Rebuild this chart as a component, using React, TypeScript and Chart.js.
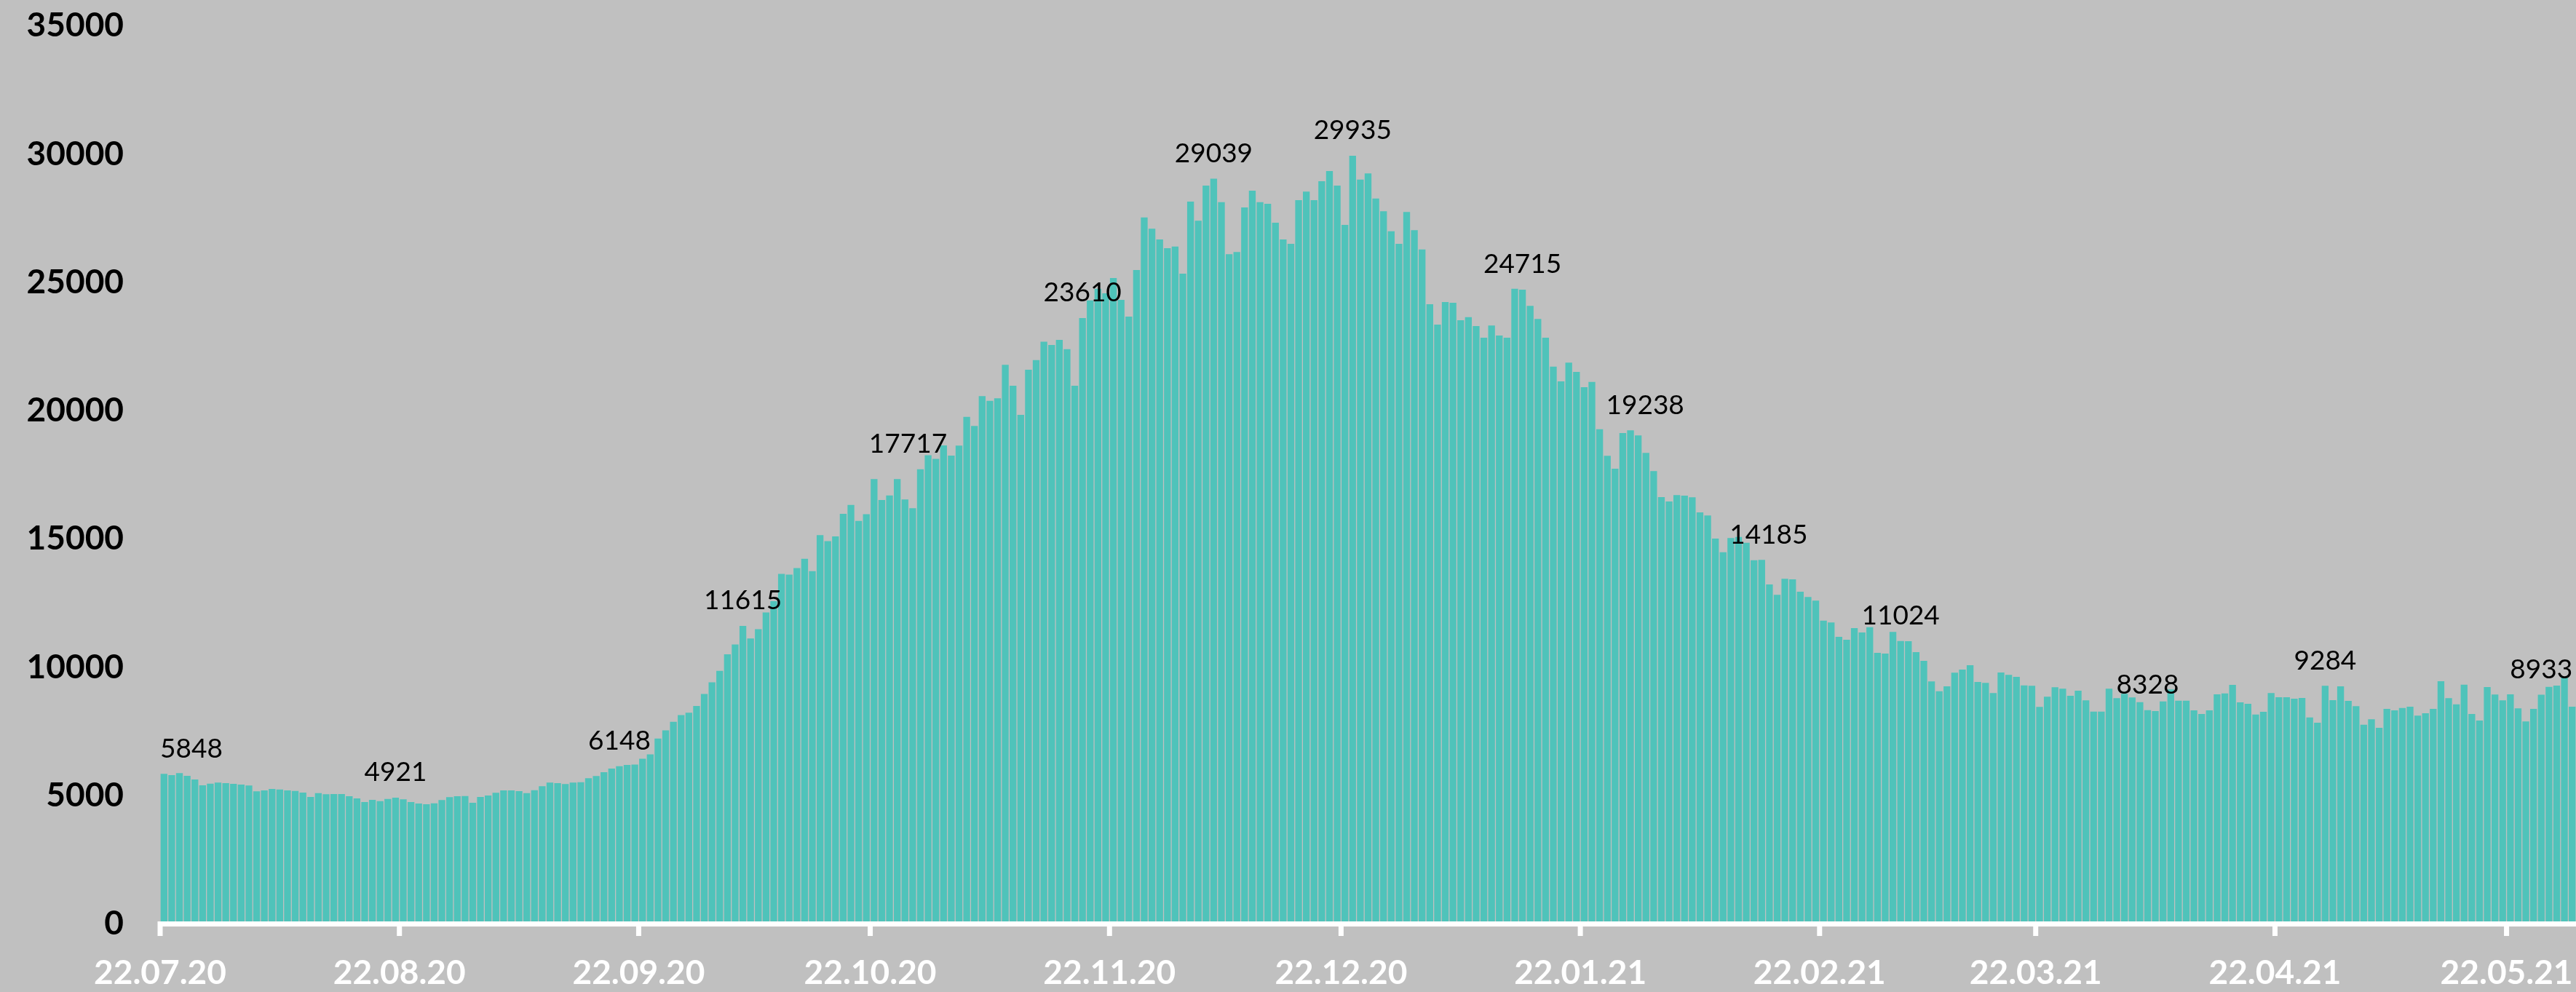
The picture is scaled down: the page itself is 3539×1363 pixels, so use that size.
import React, { useEffect, useRef } from 'react';
import { Chart, registerables } from 'chart.js';

Chart.register(...registerables);

// Daily values, one per day starting 22.07.20
const dailyCases: number[] = [
  5848, 5800, 5875, 5771, 5629, 5403, 5469, 5507, 5488, 5459,
  5431, 5393, 5166, 5204, 5261, 5242, 5204, 5185, 5119, 4949,
  5100, 5053, 5062, 5062, 4977, 4892, 4750, 4835, 4788, 4873,
  4921, 4854, 4750, 4694, 4665, 4703, 4826, 4939, 4977, 4987,
  4722, 4949, 5006, 5110, 5204, 5204, 5176, 5100, 5214, 5365,
  5507, 5488, 5450, 5507, 5526, 5677, 5762, 5913, 6055, 6148,
  6200, 6210, 6441, 6606, 7227, 7544, 7875, 8137, 8233, 8494,
  8964, 9419, 9860, 10507, 10894, 11615, 11128, 11486, 12135, 12575,
  13638, 13610, 13871, 14231, 13749, 15155, 14920, 15099, 15981, 16326,
  15706, 15970, 17333, 16520, 16699, 17333, 16539, 16199, 17717, 18266,
  18124, 18647, 18250, 18637, 19762, 19404, 20566, 20386, 20481, 21786,
  20972, 19838, 21596, 21974, 22692, 22560, 22759, 22400, 20972, 23610,
  24300, 24750, 24574, 25170, 24319, 23666, 25482, 27533, 27089, 26673,
  26332, 26399, 25340, 28147, 27401, 28771, 29039, 28129, 26096, 26181,
  27921, 28573, 28129, 28062, 27325, 26673, 26502, 28204, 28535, 28204,
  28941, 29338, 28771, 27240, 29935, 29008, 29244, 28270, 27769, 26994,
  26502, 27741, 27032, 26285, 24149, 23354, 24234, 24205, 23525, 23648,
  23298, 22844, 23317, 22929, 22844, 24753, 24715, 24082, 23572, 22844,
  21719, 21142, 21870, 21511, 20915, 21123, 19280, 18240, 17739, 19129,
  19238, 19034, 18354, 17645, 16633, 16463, 16709, 16690, 16623, 16038,
  15915, 15017, 14487, 15036, 15083, 14856, 14175, 14185, 13230, 12823,
  13448, 13428, 12946, 12738, 12597, 11821, 11746, 11188, 11075, 11528,
  11358, 11566, 10564, 10536, 11377, 11024, 11018, 10592, 10252, 9448,
  9070, 9259, 9789, 9912, 10082, 9430, 9391, 8995, 9798, 9704,
  9628, 9297, 9278, 8456, 8853, 9222, 9165, 8891, 9089, 8711,
  8277, 8277, 9165, 8796, 8966, 8825, 8645, 8328, 8295, 8673,
  9137, 8702, 8702, 8324, 8182, 8324, 8948, 8985, 9316, 8636,
  8579, 8163, 8267, 8995, 8834, 8834, 8777, 8806, 8050, 7841,
  9284, 8721, 9259, 8692, 8484, 7766, 7974, 7643, 8380, 8324,
  8418, 8465, 8116, 8210, 8380, 9458, 8796, 8560, 9326, 8182,
  7927, 9231, 8938, 8711, 8948, 8399, 7889, 8380, 8933, 9240,
  9288, 9628, 8465,
];

// Categories: one date per bar (dd.mm.yy)
const categories: string[] = dailyCases.map((_, i) => {
  const d = new Date(Date.UTC(2020, 6, 22 + i));
  const dd = String(d.getUTCDate()).padStart(2, '0');
  const mm = String(d.getUTCMonth() + 1).padStart(2, '0');
  const yy = String(d.getUTCFullYear()).slice(2);
  return `${dd}.${mm}.${yy}`;
});

// X-axis tick labels
const tickLabels: string[] = [
  '22.07.20', '22.08.20', '22.09.20', '22.10.20', '22.11.20', '22.12.20',
  '22.01.21', '22.02.21', '22.03.21', '22.04.21', '22.05.21',
];

// Y-axis ticks
const yTickValues: number[] = [0, 5000, 10000, 15000, 20000, 25000, 30000, 35000];

// Bars that carry a value label, and where (in day units) each label is centred
const labeledBars: number[] = [0, 30, 59, 75, 98, 119, 136, 154, 176, 190, 207, 225, 257, 280, 308];
const labelAnchors: number[] = [0.5, 30.5, 59.5, 75.5, 96.9, 119.5, 136.5, 154.5, 176.5, 192.4, 208.4, 225.5, 257.5, 280.5, 308.5];

const tickIndex: number[] = tickLabels.map((l) => categories.indexOf(l));

const BAR_COLOR = '#4FC3BA';
const BG_COLOR = '#C0C0C0';

const axisPlugin = {
  id: 'whiteAxis',
  afterDatasetsDraw(chart: any) {
    const { ctx, chartArea } = chart;
    const xs = chart.scales.x;
    ctx.save();
    ctx.fillStyle = '#FFFFFF';
    const lw = 7;
    ctx.fillRect(chartArea.left - lw / 2, chartArea.bottom - lw / 2, chartArea.right - chartArea.left + lw, lw);
    tickIndex.forEach((t) => {
      const px = xs.getPixelForValue(t);
      ctx.fillRect(px - lw / 2, chartArea.bottom + lw / 2, lw, 13);
    });
    ctx.restore();
  },
};

const valueLabelPlugin = {
  id: 'valueLabels',
  afterDatasetsDraw(chart: any) {
    const { ctx, chartArea } = chart;
    const xs = chart.scales.x;
    const ys = chart.scales.y;
    ctx.save();
    ctx.font = '37px Lato';
    ctx.fillStyle = '#000000';
    ctx.textAlign = 'center';
    ctx.textBaseline = 'alphabetic';
    labeledBars.forEach((idx, k) => {
      const text = String(dailyCases[idx]);
      const w = ctx.measureText(text).width;
      let cx = xs.getPixelForValue(labelAnchors[k]);
      cx = Math.max(chartArea.left + w / 2, Math.min(chartArea.right - w / 2, cx));
      const top = ys.getPixelForValue(dailyCases[idx]);
      ctx.fillText(text, cx, top - 22.6);
    });
    ctx.restore();
  },
};

export default function App() {
  const canvasRef = useRef<HTMLCanvasElement | null>(null);

  useEffect(() => {
    const canvas = canvasRef.current;
    if (!canvas) return;
    const chart = new Chart(canvas, {
      type: 'bar',
      data: {
        datasets: [
          {
            data: dailyCases.map((v, i) => ({ x: i + 0.5, y: v })) as any,
            backgroundColor: BAR_COLOR,
            borderWidth: 0,
            barPercentage: 0.88,
            categoryPercentage: 1,
          },
        ],
      },
      options: {
        responsive: false,
        maintainAspectRatio: false,
        animation: false,
        layout: { padding: { top: 35.4, left: 0, right: 0, bottom: 0 } },
        plugins: {
          legend: { display: false },
          tooltip: { enabled: false },
        },
        scales: {
          x: {
            type: 'linear',
            min: 0,
            max: dailyCases.length,
            offset: false,
            grid: { display: false, drawTicks: false },
            border: { display: false },
            afterBuildTicks: (s: any) => {
              s.ticks = tickIndex.map((v) => ({ value: v }));
            },
            afterFit: (s: any) => {
              s.height = 93.5;
              s.paddingLeft = 0;
              s.paddingRight = 0;
              s.paddingTop = 0;
              s.paddingBottom = 0;
            },
            ticks: {
              autoSkip: false,
              maxRotation: 0,
              minRotation: 0,
              padding: 40,
              color: '#FFFFFF',
              font: { family: 'Lato', weight: 'bold', size: 46 },
              callback: (v: any) => {
                const k = tickIndex.indexOf(Number(v));
                return k >= 0 ? tickLabels[k] : '';
              },
            },
          },
          y: {
            min: 0,
            max: 35000,
            grid: { display: false, drawTicks: false },
            border: { display: false },
            afterBuildTicks: (s: any) => {
              s.ticks = yTickValues.map((v) => ({ value: v }));
            },
            afterFit: (s: any) => {
              s.width = 220;
              s.paddingTop = 0;
              s.paddingBottom = 0;
              s.paddingLeft = 0;
              s.paddingRight = 0;
            },
            ticks: {
              padding: 50,
              color: '#000000',
              font: { family: 'Lato', weight: 'bold', size: 46 },
              callback: (v: any) => String(v),
            },
          },
        },
      } as any,
      plugins: [axisPlugin, valueLabelPlugin],
    });
    return () => chart.destroy();
  }, []);

  return (
    <div
      style={{
        position: 'fixed',
        left: 0,
        top: 0,
        width: 3539,
        height: 1363,
        background: BG_COLOR,
        overflow: 'hidden',
      }}
    >
      <canvas ref={canvasRef} width={3539} height={1363} style={{ display: 'block' }} />
    </div>
  );
}
